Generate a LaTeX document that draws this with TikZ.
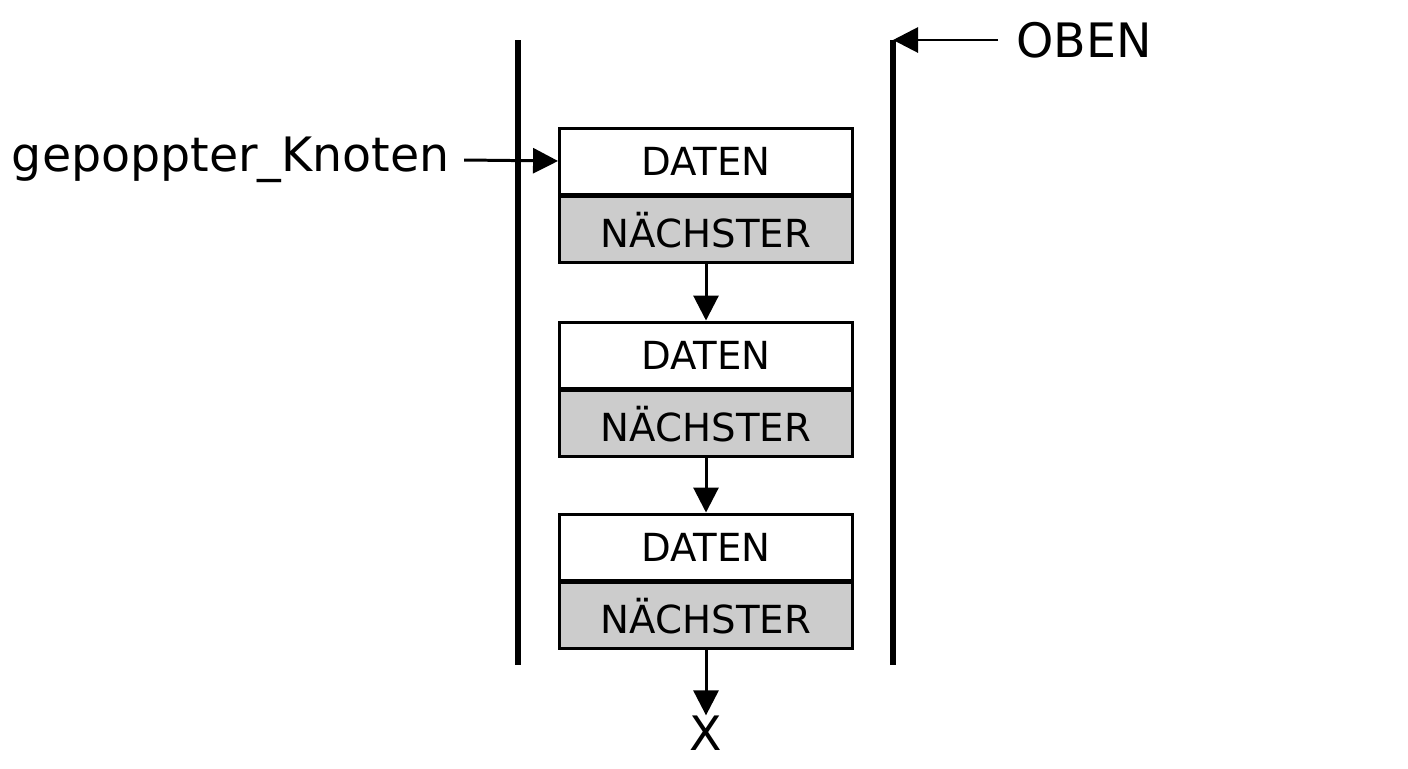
\documentclass[tikz,border=0pt]{standalone}
\usepackage{fontspec}
\setmainfont{DejaVu Sans}
\usetikzlibrary{arrows.meta, positioning}
\begin{document}
\begin{tikzpicture}[
    x=0.02cm, y=-0.02cm,
    feld/.style={draw, line width=1.7pt, fill=#1, minimum width=5.86cm, minimum height=1.32cm, inner sep=0pt, font=\fontsize{22}{24}\selectfont},
    pfeil/.style={-{Triangle[length=5mm, width=5mm]}, line width=1.7pt},
    wand/.style={line width=3.4pt},
    marke/.style={font=\fontsize{27}{30}\selectfont, inner sep=0pt}
]
    \useasboundingbox (0,0) rectangle (1408,768);
    % Stapelwaende
    \draw[wand] (518,40) coordinate (lo) -- (518,665);
    \draw[wand] (893,40) coordinate (ro) -- (893,665);
    % Knoten
    \foreach \n/\y in {1/161, 2/355, 3/547} {
        \node[feld=white] (daten\n) at (706,\y) {DATEN};
        \node[feld=black!20, below=0pt of daten\n] (next\n) {NÄCHSTER};
    }
    \draw[pfeil] (next1) -- (daten2);
    \draw[pfeil] (next2) -- (daten3);
    \node[marke] (x) at (706,733) {X};
    \draw[pfeil] (next3) -- (x);
    % Beschriftungen
    \node[marke, anchor=west] (oben) at (1016,40) {OBEN};
    \draw[pfeil] (998,40) -- (ro);
    \node[marke, anchor=east] (pop) at (450,160) {gepoppter\_Knoten};
    \draw[pfeil] (pop.east) ++(8pt,0) -- (daten1.west);
\end{tikzpicture}
\end{document}
